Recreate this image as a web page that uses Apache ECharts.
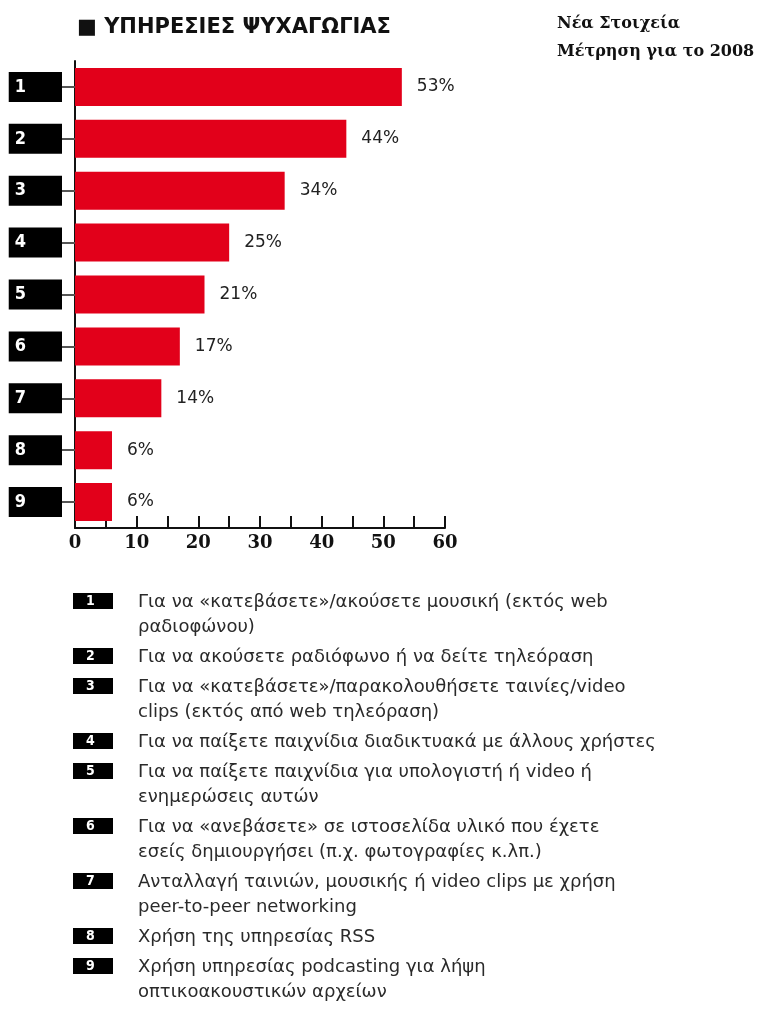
<!DOCTYPE html>
<html>
<head>
<meta charset="utf-8">
<script src="https://cdn.jsdelivr.net/npm/echarts@6/dist/echarts.min.js"></script>
<style>
  html, body { margin: 0; padding: 0; background: #fff; }
  #chart { width: 761px; height: 1009px; }
</style>
</head>
<body>
<div id="chart"></div>
<script>
// data
const categories = ['1', '2', '3', '4', '5', '6', '7', '8', '9'];
const values = [53, 44, 34, 25, 21, 17, 14, 6, 6];
const xTicks = [0, 10, 20, 30, 40, 50, 60];
const descriptions = [
  'Για να «κατεβάσετε»/ακούσετε μουσική (εκτός web\nραδιοφώνου)',
  'Για να ακούσετε ραδιόφωνο ή να δείτε τηλεόραση',
  'Για να «κατεβάσετε»/παρακολουθήσετε ταινίες/video\nclips (εκτός από web τηλεόραση)',
  'Για να παίξετε παιχνίδια διαδικτυακά με άλλους χρήστες',
  'Για να παίξετε παιχνίδια για υπολογιστή ή video ή\nενημερώσεις αυτών',
  'Για να «ανεβάσετε» σε ιστοσελίδα υλικό που έχετε\nεσείς δημιουργήσει (π.χ. φωτογραφίες κ.λπ.)',
  'Ανταλλαγή ταινιών, μουσικής ή video clips με χρήση\npeer-to-peer networking',
  'Χρήση της υπηρεσίας RSS',
  'Χρήση υπηρεσίας podcasting για λήψη\nοπτικοακουστικών αρχείων'
];

const chart = echarts.init(document.getElementById('chart'));

// legend under the chart: black number box + description
const legendItems = [];
let y = 590;
descriptions.forEach((text, i) => {
  const lines = text.split('\n').length;
  legendItems.push({
    type: 'rect',
    shape: { x: 73, y: y + 3, width: 40, height: 16 },
    style: { fill: '#000' }
  });
  legendItems.push({
    type: 'text',
    x: 86, y: y + 11,
    style: {
      text: categories[i], fill: '#fff', verticalAlign: 'middle',
      font: 'bold 14px "DejaVu Sans Condensed"'
    }
  });
  legendItems.push({
    type: 'text',
    x: 138, y: y,
    style: {
      text: text, fill: '#2a2a2a', lineHeight: 25, verticalAlign: 'top',
      font: '18px "DejaVu Sans"'
    }
  });
  y += 25 * lines + 5;
});

const option = {
  animation: false,
  title: [
    {
      text: '■ ΥΠΗΡΕΣΙΕΣ ΨΥΧΑΓΩΓΙΑΣ',
      left: 77, top: 17, padding: 0,
      textStyle: { fontFamily: 'DejaVu Sans', fontWeight: 'bold', fontSize: 21, color: '#111' }
    },
    {
      text: 'Νέα Στοιχεία\nΜέτρηση για το 2008',
      left: 557, top: 10, padding: 0,
      textStyle: { fontFamily: 'DejaVu Serif', fontWeight: 'bold', fontSize: 16, lineHeight: 28, color: '#111' }
    }
  ],
  grid: { left: 75, right: 316, top: 61, bottom: 481 },
  xAxis: {
    type: 'value',
    min: 0,
    max: 60,
    interval: 5,
    splitLine: { show: false },
    axisLine: { show: true, lineStyle: { color: '#111', width: 2 } },
    axisTick: { show: true, inside: true, length: 12, lineStyle: { color: '#111', width: 2 } },
    axisLabel: {
      margin: 6,
      formatter: v => (xTicks.includes(v) ? String(v) : ''),
      fontFamily: 'DejaVu Serif', fontWeight: 'bold', fontSize: 18, color: '#111'
    }
  },
  yAxis: {
    type: 'category',
    inverse: true,
    data: categories,
    axisLine: { show: true, lineStyle: { color: '#111', width: 2 } },
    axisTick: { show: true, alignWithLabel: true, length: 13, lineStyle: { color: '#555', width: 2 } },
    axisLabel: {
      margin: 13,
      align: 'right',
      backgroundColor: '#000',
      padding: [6, 36, 6, 6],
      color: '#fff',
      fontFamily: 'DejaVu Sans Condensed', fontWeight: 'bold', fontSize: 18
    }
  },
  series: [
    {
      type: 'bar',
      data: values,
      barWidth: 38,
      itemStyle: { color: '#e2001a' },
      label: {
        show: true,
        position: 'right',
        distance: 15,
        formatter: '{c}%',
        fontFamily: 'DejaVu Sans', fontSize: 17, color: '#222'
      }
    }
  ],
  graphic: legendItems
};

chart.setOption(option);
</script>
</body>
</html>
